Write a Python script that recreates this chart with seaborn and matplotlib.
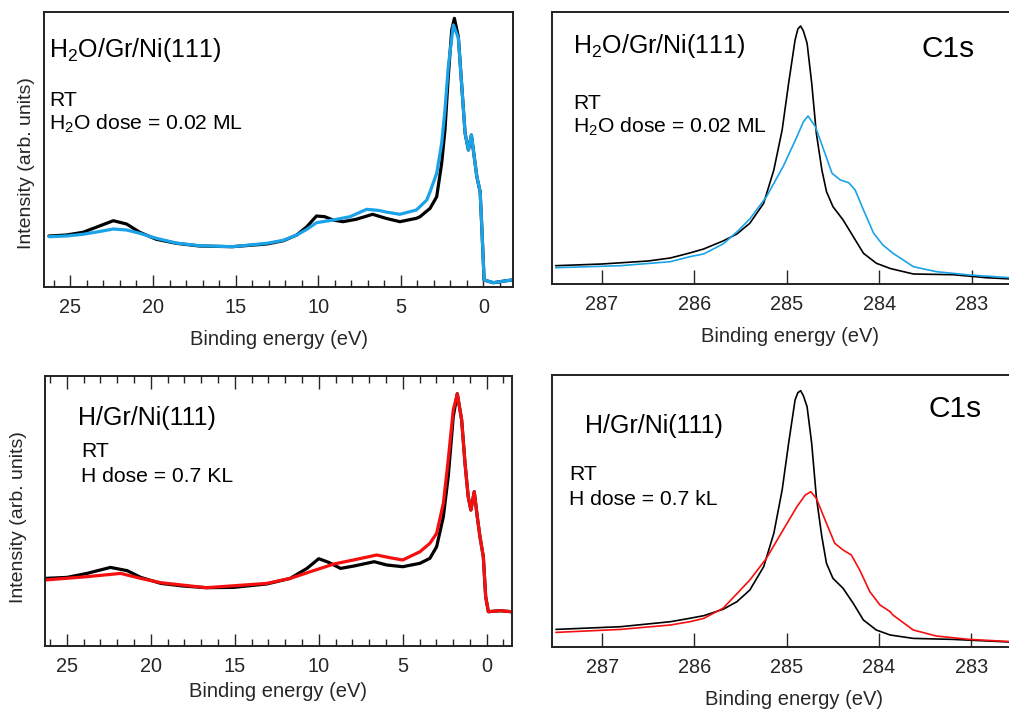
import matplotlib
matplotlib.use("Agg")
import matplotlib.pyplot as plt
from matplotlib.ticker import MultipleLocator, NullLocator
import seaborn as sns

# valence band, H2O panel (binding energy eV, intensity arb.)
vb_h2o_clean_x = [26.3, 25.24, 24.24, 23.4, 22.4, 21.6, 20.8, 19.8, 18.6, 17.2, 15.2, 13.1, 12.1, 11.3, 10.7,
                  10.1, 9.6, 9.1, 8.5, 7.7, 6.7, 5.9, 5.05, 4.05, 3.83, 3.22, 2.82, 2.52, 2.32, 2.12, 1.91,
                  1.75, 1.51, 1.30, 1.10, 0.90, 0.72, 0.60, 0.39, 0.19, 0.09, -0.05, -0.61, -1.42, -1.75]
vb_h2o_clean_y = [51, 52, 54.7, 60, 66.3, 63, 54.7, 47.7, 43.7, 41, 40.3, 43, 46.3, 52, 60,
                  71, 70.3, 67, 65.3, 67.7, 72.7, 68.7, 65.3, 68.7, 70.3, 78.7, 90.3, 123.7, 157, 210.3, 257,
                  268.7, 250.3, 200.3, 153.7, 137, 152, 137, 110.3, 95.3, 60.3, 7, 4.3, 6.3, 7]
vb_h2o_dosed_x = [26.3, 25.24, 24.24, 23.4, 22.4, 21.6, 20.8, 19.8, 18.6, 17.2, 15.2, 13.1, 12.1, 11.3, 10.7,
                  10.1, 9.1, 8.07, 7.06, 6.3, 5.9, 5.05, 4.05, 3.42, 3.22, 2.82, 2.52, 2.32, 2.12, 1.81,
                  1.51, 1.30, 1.10, 0.90, 0.72, 0.60, 0.39, 0.19, 0.09, -0.05, -0.61, -1.42, -1.75]
vb_h2o_dosed_y = [50.3, 51, 52.7, 55, 58, 57, 53.7, 48.7, 44, 41.3, 40.3, 43.7, 46.7, 52, 57.5,
                  64.3, 67, 70.3, 77.7, 76.5, 75, 72.7, 77, 87, 95.3, 113.7, 143.7, 177, 220.3, 262,
                  249, 200.3, 153.7, 137, 152, 137, 110.3, 95.3, 60.3, 7, 4.3, 6.3, 7]

# valence band, H panel
vb_h_clean_x = [26.3, 25.0, 23.8, 22.4, 21.4, 20.6, 19.4, 18.1, 16.7, 15.1, 13.1, 11.7, 10.7, 10.0, 9.4,
                8.7, 7.9, 6.7, 5.95, 5.0, 3.97, 3.38, 2.98, 2.58, 2.29, 1.99, 1.75, 1.49, 1.29, 1.10,
                0.94, 0.74, 0.56, 0.40, 0.20, 0.06, -0.10, -0.79, -1.45]
vb_h_clean_y = [67.3, 68.3, 72.3, 78.3, 75, 68.3, 62.3, 59.7, 58, 58.3, 61.7, 67.3, 77.3, 87, 83.3,
                77.3, 79.7, 84, 80.7, 79, 82.4, 87.4, 99, 129, 169, 229, 252, 225.7, 182.4, 149,
                135.7, 154, 129, 109, 89, 49, 34, 35, 34]
vb_h_dosed_x = [26.3, 23.8, 21.8, 20.6, 19.4, 16.7, 13.1, 11.7, 10.5, 9.1, 7.94, 6.55, 5.76, 5.0, 3.97,
                3.38, 2.98, 2.58, 2.29, 1.99, 1.75, 1.49, 1.29, 1.10, 0.94, 0.74, 0.56, 0.40, 0.20, 0.06,
                -0.10, -0.79, -1.45]
vb_h_dosed_y = [65.7, 69, 72.3, 67.3, 63, 58, 62.3, 67.3, 74, 81.7, 85.7, 90.7, 88, 85.7, 94,
                102.4, 112.4, 142.4, 185.7, 235.7, 251.7, 225.7, 182.4, 149, 135.7, 154, 129, 109, 89, 49,
                34, 35, 34]

# C1s, H2O panel
c1s_h2o_clean_x = [287.5, 287.0, 286.5, 286.26, 286.05, 285.9, 285.69, 285.54, 285.40, 285.25, 285.14, 285.05,
                   284.98, 284.91, 284.88, 284.85, 284.82, 284.78, 284.73, 284.68, 284.62, 284.57, 284.50,
                   284.39, 284.28, 284.17, 284.03, 283.88, 283.63, 283.2, 282.84, 282.4]
c1s_h2o_clean_y = [18.3, 20, 23, 26, 31, 35, 43, 50, 60.7, 80.7, 114, 154,
                   200.7, 244, 255, 258, 253, 240.7, 200.7, 150.7, 114, 92.3, 77.3,
                   64, 47.3, 30.7, 20.7, 15.5, 10, 9.3, 6.3, 4.2]
c1s_h2o_dosed_x = [287.5, 286.8, 286.26, 286.05, 285.9, 285.69, 285.54, 285.40, 285.22, 285.04, 284.89, 284.82,
                   284.77, 284.69, 284.60, 284.51, 284.42, 284.33, 284.26, 284.17, 284.06, 283.96, 283.85,
                   283.63, 283.38, 283.02, 282.4]
c1s_h2o_dosed_y = [16.3, 18.3, 22.3, 27.3, 30, 40, 52, 65, 87.3, 117.3, 147.3, 162.3,
                   168, 157.3, 134, 110.7, 104, 101.3, 94, 74, 50.7, 39, 30.7,
                   17.3, 12.3, 9, 5.2]

# C1s, H panel
c1s_h_clean_x = [287.5, 286.8, 286.26, 286.05, 285.9, 285.69, 285.54, 285.40, 285.25, 285.14, 285.05, 284.98,
                 284.91, 284.88, 284.85, 284.82, 284.78, 284.73, 284.68, 284.62, 284.57, 284.50, 284.39,
                 284.28, 284.17, 284.03, 283.88, 283.63, 283.2, 282.3]
c1s_h_clean_y = [17.3, 20, 25, 28.4, 31, 37.4, 45, 56.7, 80, 113.4, 156.7, 203.4,
                 246.7, 254, 256, 251, 240, 203.4, 150, 110, 83.4, 68.4, 58.4,
                 43.4, 26.7, 16.7, 11.7, 8.3, 7.3, 3.5]
c1s_h_dosed_x = [287.5, 286.8, 286.26, 286.05, 285.9, 285.69, 285.54, 285.40, 285.22, 285.04, 284.89, 284.80,
                 284.74, 284.68, 284.57, 284.48, 284.39, 284.30, 284.21, 284.10, 283.99, 283.88, 283.85,
                 283.63, 283.38, 283.02, 282.3]
c1s_h_dosed_y = [14.3, 17.3, 21.7, 25, 28.3, 38.5, 53, 66.7, 88.4, 116.7, 140, 151.7,
                 155, 148.4, 123.4, 103.4, 96.7, 91.7, 76.7, 55, 41.7, 35, 31.7,
                 16.7, 10.7, 7.3, 3.8]

BLUE = "#1aa3e8"
RED = "#f50f0f"

sns.set_theme(style="ticks")
plt.rcParams["font.family"] = ["Liberation Sans", "DejaVu Sans"]
plt.rcParams["mathtext.fontset"] = "custom"
plt.rcParams["mathtext.rm"] = "Liberation Sans"
plt.rcParams["mathtext.it"] = "Liberation Sans:italic"
plt.rcParams["axes.edgecolor"] = "#222222"

fig = plt.figure(figsize=(10.09, 7.11), dpi=100)
W, H = 1009, 711


def add_axes(left, top, right, bottom):
    return fig.add_axes([left / W, 1 - bottom / H, (right - left) / W, (bottom - top) / H])


ax_tl = add_axes(44, 12, 513, 287)
ax_tr = add_axes(552, 12, 1028, 284)
ax_bl = add_axes(45, 375.7, 511.7, 645.7)
ax_br = add_axes(552.3, 375, 1036, 646.7)

# draw spectra
sns.lineplot(x=vb_h2o_clean_x, y=vb_h2o_clean_y, ax=ax_tl, color="black", lw=2.3, sort=False, estimator=None)
sns.lineplot(x=vb_h2o_dosed_x, y=vb_h2o_dosed_y, ax=ax_tl, color=BLUE, lw=2.3, sort=False, estimator=None)
sns.lineplot(x=vb_h_clean_x, y=vb_h_clean_y, ax=ax_bl, color="black", lw=2.3, sort=False, estimator=None)
sns.lineplot(x=vb_h_dosed_x, y=vb_h_dosed_y, ax=ax_bl, color=RED, lw=2.3, sort=False, estimator=None)
sns.lineplot(x=c1s_h2o_clean_x, y=c1s_h2o_clean_y, ax=ax_tr, color="black", lw=1.2, sort=False, estimator=None)
sns.lineplot(x=c1s_h2o_dosed_x, y=c1s_h2o_dosed_y, ax=ax_tr, color=BLUE, lw=1.2, sort=False, estimator=None)
sns.lineplot(x=c1s_h_clean_x, y=c1s_h_clean_y, ax=ax_br, color="black", lw=1.2, sort=False, estimator=None)
sns.lineplot(x=c1s_h_dosed_x, y=c1s_h_dosed_y, ax=ax_br, color=RED, lw=1.2, sort=False, estimator=None)

ax_tl.set_xlim(26.6, -1.8)
ax_tl.set_ylim(0, 275)
ax_bl.set_xlim(26.3, -1.49)
ax_bl.set_ylim(0, 270)
ax_tr.set_xlim(287.54, 282.39)
ax_tr.set_ylim(0, 272)
ax_br.set_xlim(287.54, 282.30)
ax_br.set_ylim(0, 271.7)

for ax in [ax_tl, ax_bl, ax_tr, ax_br]:
    for sp in ax.spines.values():
        sp.set_visible(True)
        sp.set_linewidth(1.4)
    ax.yaxis.set_major_locator(NullLocator())
    ax.set_ylabel("")
    ax.set_xlabel("Binding energy (eV)", fontsize=14.5)
    ax.grid(False)

for ax in [ax_tl, ax_bl]:
    ax.xaxis.set_major_locator(MultipleLocator(5))
    ax.xaxis.set_minor_locator(MultipleLocator(1))
    ax.tick_params(axis="x", which="major", direction="in", length=9, width=1.0, pad=8, labelsize=14.3)
    ax.tick_params(axis="x", which="minor", direction="in", length=5, width=1.0)
ax_bl.tick_params(axis="x", which="both", top=True)

for ax in [ax_tr, ax_br]:
    ax.xaxis.set_major_locator(MultipleLocator(1))
    ax.tick_params(axis="x", which="major", direction="in", length=10, width=1.0, pad=8, labelsize=14.3)
    ax.spines["right"].set_visible(False)

ax_tl.set_ylabel("Intensity (arb. units)", fontsize=14)
ax_tl.yaxis.set_label_coords(-0.019, 0.449)
ax_bl.set_ylabel("Intensity (arb. units)", fontsize=14)
ax_bl.yaxis.set_label_coords(-0.039, 0.478)

ax_tl.xaxis.set_label_coords(0.5, -0.155)
ax_tr.xaxis.set_label_coords(0.5, -0.158)
ax_bl.xaxis.set_label_coords(0.5, -0.135)
ax_br.xaxis.set_label_coords(0.5, -0.158)


def put(ax, x, y, s, size):
    # x, y in figure pixels relative to the axes box
    bb = ax.get_position()
    fx = (x / W - bb.x0) / bb.width
    fy = ((1 - y / H) - bb.y0) / bb.height
    ax.text(fx, fy, s, transform=ax.transAxes, fontsize=size, ha="left", va="baseline", color="black")


put(ax_tl, 49, 57, r"H$_\mathrm{2}$O/Gr/Ni(111)", 18)
put(ax_tl, 49, 106, "RT", 15.2)
put(ax_tl, 49, 130, r"H$_\mathrm{2}$O dose = 0.02 ML", 15.2)

put(ax_tr, 573, 53, r"H$_\mathrm{2}$O/Gr/Ni(111)", 18)
put(ax_tr, 573, 109, "RT", 15.2)
put(ax_tr, 573, 133, r"H$_\mathrm{2}$O dose = 0.02 ML", 15.2)
put(ax_tr, 922, 57, "C1s", 21.5)

put(ax_bl, 78, 425, "H/Gr/Ni(111)", 18)
put(ax_bl, 81, 457, "RT", 15.2)
put(ax_bl, 81, 482, "H dose = 0.7 KL", 15.2)

put(ax_br, 585, 433, "H/Gr/Ni(111)", 18)
put(ax_br, 569, 480, "RT", 15.2)
put(ax_br, 569, 505, "H dose = 0.7 kL", 15.2)
put(ax_br, 929, 417, "C1s", 21.5)

fig.savefig("out.png", dpi=100)
